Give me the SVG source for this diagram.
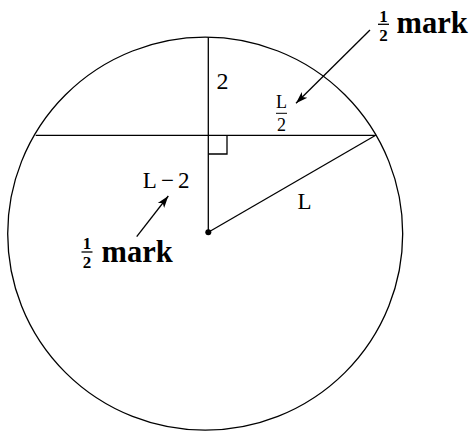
<svg xmlns="http://www.w3.org/2000/svg" width="474" height="431" viewBox="0 0 474 431">
<defs>
<style>
.ln{fill:none;stroke:#000;stroke-width:1.3}
.t{font-family:'Liberation Serif','Times New Roman',serif;fill:#000}
.b{font-family:'Liberation Serif','Times New Roman',serif;font-weight:bold;fill:#000}
</style>
<marker id="ah" viewBox="0 0 12 10" refX="12" refY="5" markerWidth="12" markerHeight="10" markerUnits="userSpaceOnUse" orient="auto">
<path d="M0,1 L12,5 L0,9 L3,5 Z" fill="#000"/>
</marker>
</defs>
<g id="circle"><ellipse class="ln" cx="205.2" cy="233.7" rx="197.5" ry="196.5"/></g>
<g id="connectors">
<line class="ln" x1="35.7" y1="135.3" x2="375.7" y2="135.3"/>
<line class="ln" x1="208.3" y1="37.3" x2="208.3" y2="232.3"/>
<line class="ln" x1="208.3" y1="232.3" x2="375.7" y2="135.3"/>
<polyline class="ln" points="208.3,154 227,154 227,135.3"/>
<line class="ln" x1="370" y1="30" x2="296" y2="103.3" marker-end="url(#ah)"/>
<line class="ln" x1="136.7" y1="236.7" x2="168.3" y2="196" marker-end="url(#ah)"/>
</g>
<g id="center"><circle cx="208.3" cy="232.3" r="3" fill="#000"/></g>
<g id="label-2"><text class="t" x="216.5" y="89" font-size="24">2</text></g>
<g id="label-L2frac">
<text class="t" x="281.5" y="107.7" font-size="18" text-anchor="middle">L</text>
<line x1="276" y1="113.3" x2="287" y2="113.3" stroke="#000" stroke-width="1"/>
<text class="t" x="281.5" y="130.7" font-size="18" text-anchor="middle">2</text>
</g>
<g id="label-Lm2"><text class="t" y="188.3" font-size="23"><tspan x="142.7">L</tspan><tspan x="161">−</tspan><tspan x="178">2</tspan></text></g>
<g id="label-L"><text class="t" x="297.5" y="209" font-size="23">L</text></g>
<g id="mark-top">
<text class="b" x="383.5" y="21.7" font-size="17" text-anchor="middle">1</text>
<line x1="378" y1="24.3" x2="389" y2="24.3" stroke="#000" stroke-width="1.3"/>
<text class="b" x="383.5" y="41" font-size="17" text-anchor="middle">2</text>
<text class="b" x="396.5" y="33.3" font-size="30.5">mark</text>
</g>
<g id="mark-bottom">
<text class="b" x="87" y="248.5" font-size="17" text-anchor="middle">1</text>
<line x1="81.5" y1="252" x2="92.5" y2="252" stroke="#000" stroke-width="1.3"/>
<text class="b" x="87" y="268" font-size="17" text-anchor="middle">2</text>
<text class="b" x="101.5" y="261.7" font-size="30.5">mark</text>
</g>
</svg>
